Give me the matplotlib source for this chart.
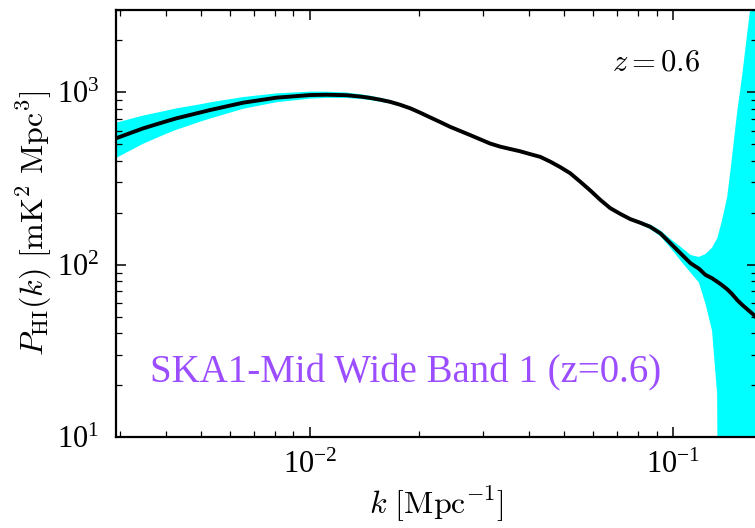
import numpy as np
import matplotlib
matplotlib.use("Agg")
import matplotlib.pyplot as plt
from matplotlib.ticker import FuncFormatter, LogLocator

plt.rcParams['font.family'] = ['Liberation Serif', 'DejaVu Serif']
plt.rcParams['mathtext.fontset'] = 'cm'

# k in Mpc^-1, P_HI(k) in mK^2 Mpc^3, and the 1-sigma error on it
k = [0.00292, 0.00347, 0.00398, 0.00429, 0.00501, 0.0053, 0.00655, 0.00809,
     0.0100, 0.0111, 0.0126, 0.0138, 0.01459, 0.0156, 0.0166, 0.0177, 0.0189,
     0.0201, 0.0214, 0.0228, 0.0243, 0.0259, 0.0276, 0.0294, 0.0313, 0.0334,
     0.0356, 0.0379, 0.0404, 0.0431, 0.0459, 0.0489, 0.0521, 0.0555, 0.0592,
     0.0630, 0.0671, 0.0716, 0.0762, 0.0813, 0.0865, 0.0923, 0.0984, 0.1059,
     0.1117, 0.1177, 0.1228, 0.1280, 0.1322, 0.1360, 0.1409, 0.1450, 0.1501,
     0.1550, 0.1600, 0.1645, 0.1687, 0.1710]
pk = [541, 618, 675, 707, 766, 789, 871, 931,
      964, 968, 962, 944, 929, 906, 881, 847, 807,
      762, 716, 673, 631, 597, 565, 534, 505, 484,
      469, 455, 438, 422, 396, 368, 339, 303, 269,
      238, 213, 197, 184, 175, 166, 152, 133, 114,
      102, 95, 87.3, 83.5, 79.8, 76.5, 72.1, 68, 62.5,
      58.5, 55.2, 52.5, 50.0, 48]
err = [125, 115, 105, 100, 88, 85, 68, 55,
       45, 40, 35, 30, 27, 24, 20, 17, 15,
       13, 12, 11, 10, 9, 8, 8, 7, 7,
       6, 6, 6, 5, 5, 5, 4, 4, 4,
       3.5, 3.5, 3.5, 3.5, 4, 5, 6, 8, 11,
       12, 16, 28, 42, 62, 100, 175, 337, 706,
       1200, 2150, 3470, 5450, 8000]

k = np.array(k)
pk = np.array(pk)
err = np.array(err)

fig = plt.figure(figsize=(7.55, 5.28), dpi=100)
ax = fig.add_axes([0.1536, 0.172, 0.849, 0.809])

ax.fill_between(k, np.clip(pk - err, 1e-3, None), pk + err, color='#00ffff', lw=0)
ax.plot(k, pk, color='black', lw=2.8, solid_joinstyle='round')

ax.set_xscale('log')
ax.set_yscale('log')
ax.set_xlim(0.00292, 0.1702)
ax.set_ylim(10, 3000)

def fmt(v, pos):
    e = int(np.round(np.log10(v)))
    return r'$\mathregular{10^{%d}}$' % e

ax.xaxis.set_major_formatter(FuncFormatter(fmt))
ax.yaxis.set_major_formatter(FuncFormatter(fmt))
ax.xaxis.set_minor_locator(LogLocator(base=10, subs=np.arange(2, 10)))
ax.yaxis.set_minor_locator(LogLocator(base=10, subs=np.arange(2, 10)))
ax.xaxis.set_minor_formatter(plt.NullFormatter())
ax.yaxis.set_minor_formatter(plt.NullFormatter())

ax.tick_params(which='both', direction='in', top=True, right=True, labelsize=22)
ax.tick_params(which='major', length=7, width=1.1)
ax.tick_params(which='minor', length=4, width=0.9)
ax.tick_params(axis='x', pad=10)
ax.tick_params(axis='y', pad=12)
for s in ax.spines.values():
    s.set_linewidth(1.6)

ax.set_xlabel(r'$k\ [{\rm Mpc}^{-1}]$', fontsize=23, labelpad=3)
ax.set_ylabel(r'$P_{\rm HI}(k)\ [{\rm mK}^2\ {\rm Mpc}^3]$', fontsize=23, labelpad=2)

ax.text(0.912, 0.875, r'$z = 0.6$', transform=ax.transAxes, fontsize=22,
        ha='right', va='center')
ax.text(0.053, 0.129, 'SKA1-Mid Wide Band 1 (z=0.6)', transform=ax.transAxes,
        fontsize=28, color='#9b4dff', ha='left', va='baseline')

fig.savefig('out.png', dpi=100)
